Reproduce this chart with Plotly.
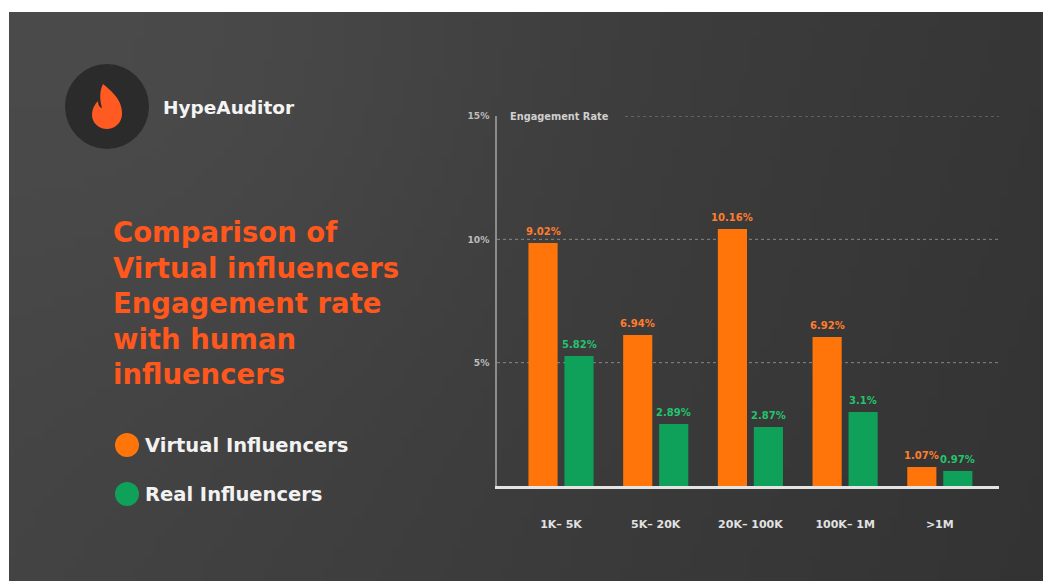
import base64, struct, zlib, math
import plotly.graph_objects as go

# ---------------- data ----------------
categories = ["1K– 5K", "5K– 20K", "20K– 100K", "100K– 1M", ">1M"]
virtual_values = [9.85, 6.12, 10.42, 6.04, 0.77]
real_values = [5.27, 2.51, 2.39, 3.00, 0.61]
virtual_labels = ["9.02%", "6.94%", "10.16%", "6.92%", "1.07%"]
real_labels = ["5.82%", "2.89%", "2.87%", "3.1%", "0.97%"]
y_tick_values = [5, 10, 15]
y_tick_labels = ["5%", "10%", "15%"]
title_lines = ["Comparison of", "Virtual influencers", "Engagement rate",
               "with human", "influencers"]
series_names = ["Virtual Influencers", "Real Influencers"]

# ---------------- layout constants ----------------
W, H = 1043, 582
ML, MR, MT, MB = 497, 44, 116, 96
PW, PH = W - ML - MR, H - MT - MB
ORANGE = "#ff7509"
GREEN = "#0fa05a"
ORANGE_TXT = "#ff7d2e"
GREEN_TXT = "#22c46e"
TITLE_COL = "#ff571c"
FONT = "DejaVu Sans"


def px_x(px):
    return (px - ML) / PW


def px_y(py):
    return (H - MB - py) / PH


# ---------------- background gradient image ----------------
def make_png(w, h, fn):
    raw = b""
    for j in range(h):
        row = b"\x00"
        for i in range(w):
            v = fn(i / (w - 1), j / (h - 1))
            row += bytes([v, v, v])
        raw += row

    def chunk(tag, data):
        c = struct.pack(">I", len(data)) + tag + data
        return c + struct.pack(">I", zlib.crc32(tag + data) & 0xFFFFFFFF)

    png = b"\x89PNG\r\n\x1a\n"
    png += chunk(b"IHDR", struct.pack(">IIBBBBB", w, h, 8, 2, 0, 0, 0))
    png += chunk(b"IDAT", zlib.compress(raw, 9))
    png += chunk(b"IEND", b"")
    return "data:image/png;base64," + base64.b64encode(png).decode()


def shade(u, v):
    x, y = u * 1034, v * 568
    d2 = ((x - 200) ** 2 + (y - 60) ** 2) / (320 ** 2)
    val = 70 - 16 * u - 3 * v + 6 * math.exp(-d2)
    return max(0, min(255, int(round(val))))


bg_src = make_png(104, 57, shade)

fig = go.Figure()
fig.add_trace(go.Bar(x=list(range(len(categories))), y=virtual_values,
                     marker=dict(color=ORANGE, line=dict(width=0)),
                     name=series_names[0], hoverinfo="skip"))
fig.add_trace(go.Bar(x=list(range(len(categories))), y=real_values,
                     marker=dict(color=GREEN, line=dict(width=0)),
                     name=series_names[1], hoverinfo="skip"))

bargap = 0.24
slot = (1 - bargap) / 2
annotations = []
for i in range(len(categories)):
    annotations.append(dict(x=i - slot / 2, y=virtual_values[i], xref="x", yref="y",
                            text=virtual_labels[i], showarrow=False, yanchor="bottom",
                            yshift=4, font=dict(family=FONT, size=10, color=ORANGE_TXT, weight=700)))
    annotations.append(dict(x=i + slot / 2, y=real_values[i], xref="x", yref="y",
                            text=real_labels[i], showarrow=False, yanchor="bottom",
                            yshift=4, font=dict(family=FONT, size=10, color=GREEN_TXT, weight=700)))

# "Engagement Rate" header
annotations.append(dict(x=px_x(508), y=15, xref="paper", yref="y", text="Engagement Rate",
                        showarrow=False, xanchor="left", yanchor="middle",
                        font=dict(family=FONT, size=9.8, color="#cfcfcf", weight=700)))

# Brand name
annotations.append(dict(x=px_x(161), y=px_y(107), xref="paper", yref="paper", text="HypeAuditor",
                        showarrow=False, xanchor="left", yanchor="middle",
                        font=dict(family=FONT, size=18.5, color="#f4f4f4", weight=700)))

# Title lines
for k, line in enumerate(title_lines):
    annotations.append(dict(x=px_x(111), y=px_y(232 + k * 35.5), xref="paper", yref="paper",
                            text=line, showarrow=False, xanchor="left", yanchor="middle",
                            font=dict(family=FONT, size=27.5, color=TITLE_COL, weight=700)))

# Legend texts
legend_y = [445, 494]
for k, name in enumerate(series_names):
    annotations.append(dict(x=px_x(143), y=px_y(legend_y[k]), xref="paper", yref="paper",
                            text=name, showarrow=False, xanchor="left", yanchor="middle",
                            font=dict(family=FONT, size=19.5, color="#f2f2f2", weight=700)))

shapes = []
grid_style = dict(color="rgba(200,200,200,0.55)", width=1, dash="dot")
for v in (5, 10):
    shapes.append(dict(type="line", xref="paper", yref="y", x0=0, x1=1, y0=v, y1=v,
                       line=grid_style, layer="below"))
shapes.append(dict(type="line", xref="paper", yref="y", x0=px_x(625), x1=1, y0=15, y1=15,
                   line=grid_style, layer="below"))

# Logo circle and flame
shapes.append(dict(type="circle", xref="paper", yref="paper",
                   x0=px_x(65), x1=px_x(149), y0=px_y(149), y1=px_y(64),
                   fillcolor="#2b2b2b", line=dict(width=0), layer="above"))


def P(a, b):
    return f"{px_x(a):.5f},{px_y(b):.5f}"


flame_path = ("M " + P(103, 84)
              + " C " + P(113, 92) + " " + P(123, 101) + " " + P(122, 115)
              + " C " + P(121, 124) + " " + P(114, 129) + " " + P(107, 129)
              + " C " + P(99, 129) + " " + P(92, 123) + " " + P(92, 115)
              + " C " + P(92, 109) + " " + P(95, 104) + " " + P(98, 101)
              + " C " + P(98, 105) + " " + P(100, 108) + " " + P(102, 108)
              + " C " + P(100, 101) + " " + P(99, 92) + " " + P(103, 84) + " Z")
shapes.append(dict(type="path", xref="paper", yref="paper", path=flame_path,
                   fillcolor="#ff5a22", line=dict(width=0), layer="above"))

# Legend dots
legend_cols = [ORANGE, GREEN]
for k in range(2):
    cy = legend_y[k]
    shapes.append(dict(type="circle", xref="paper", yref="paper",
                       x0=px_x(115), x1=px_x(139), y0=px_y(cy + 12), y1=px_y(cy - 12),
                       fillcolor=legend_cols[k], line=dict(width=0), layer="above"))

fig.update_layout(
    width=W, height=H,
    margin=dict(l=ML, r=MR, t=MT, b=MB, pad=0),
    paper_bgcolor="#ffffff",
    plot_bgcolor="rgba(0,0,0,0)",
    barmode="group", bargap=bargap, bargroupgap=0.19,
    showlegend=False,
    annotations=annotations,
    shapes=shapes,
    images=[dict(source=bg_src, xref="paper", yref="paper",
                 x=px_x(9), y=px_y(12), sizex=(W - 9) / PW, sizey=(581 - 12) / PH,
                 xanchor="left", yanchor="top", sizing="stretch", layer="below")],
    xaxis=dict(range=[-0.676, 4.625], tickmode="array",
               tickvals=list(range(len(categories))), ticktext=categories,
               showgrid=False, zeroline=False, showline=True, linecolor="#e4e4e4",
               linewidth=3, ticks="outside", ticklen=26, tickcolor="rgba(0,0,0,0)",
               tickfont=dict(family=FONT, size=11, color="#e2e2e2", weight=700),
               fixedrange=True),
    yaxis=dict(range=[0, 15], tickmode="array", tickvals=y_tick_values,
               ticktext=y_tick_labels, showgrid=False, zeroline=False,
               showline=True, linecolor="#8c8c8c", linewidth=1.5,
               ticks="outside", ticklen=4, tickcolor="rgba(0,0,0,0)",
               tickfont=dict(family=FONT, size=9.2, color="#bdbdbd", weight=700),
               fixedrange=True),
)

fig.write_html("out.html", config=dict(displayModeBar=False))
